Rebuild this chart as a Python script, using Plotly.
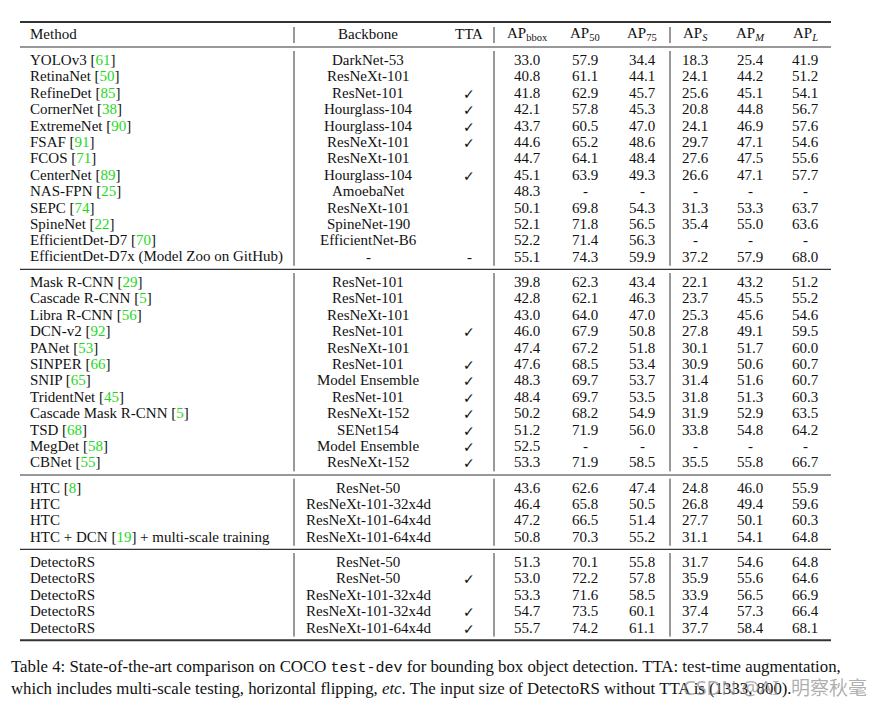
import plotly.graph_objects as go

# ---------------- data ----------------
methods = ["YOLOv3", "RetinaNet", "RefineDet", "CornerNet", "ExtremeNet", "FSAF", "FCOS",
           "CenterNet", "NAS-FPN", "SEPC", "SpineNet", "EfficientDet-D7",
           "EfficientDet-D7x (Model Zoo on GitHub)",
           "Mask R-CNN", "Cascade R-CNN", "Libra R-CNN", "DCN-v2", "PANet", "SINPER", "SNIP",
           "TridentNet", "Cascade Mask R-CNN", "TSD", "MegDet", "CBNet",
           "HTC", "HTC", "HTC", "HTC + DCN",
           "DetectoRS", "DetectoRS", "DetectoRS", "DetectoRS", "DetectoRS"]
refs = ["61", "50", "85", "38", "90", "91", "71", "89", "25", "74", "22", "70", "",
        "29", "5", "56", "92", "53", "66", "65", "45", "5", "68", "58", "55",
        "8", "", "", "19",
        "", "", "", "", ""]
method_suffix = [""] * 28 + [" + multi-scale training"] + [""] * 5
backbones = ["DarkNet-53", "ResNeXt-101", "ResNet-101", "Hourglass-104", "Hourglass-104",
             "ResNeXt-101", "ResNeXt-101", "Hourglass-104", "AmoebaNet", "ResNeXt-101",
             "SpineNet-190", "EfficientNet-B6", "-",
             "ResNet-101", "ResNet-101", "ResNeXt-101", "ResNet-101", "ResNeXt-101", "ResNet-101",
             "Model Ensemble", "ResNet-101", "ResNeXt-152", "SENet154", "Model Ensemble", "ResNeXt-152",
             "ResNet-50", "ResNeXt-101-32x4d", "ResNeXt-101-64x4d", "ResNeXt-101-64x4d",
             "ResNet-50", "ResNet-50", "ResNeXt-101-32x4d", "ResNeXt-101-32x4d", "ResNeXt-101-64x4d"]
tta = ["", "", "✓", "✓", "✓", "✓", "", "✓", "", "", "", "", "-",
       "", "", "", "✓", "", "✓", "✓", "✓", "✓", "✓", "✓", "✓",
       "", "", "", "",
       "", "✓", "", "✓", "✓"]
ap_bbox = [33.0, 40.8, 41.8, 42.1, 43.7, 44.6, 44.7, 45.1, 48.3, 50.1, 52.1, 52.2, 55.1,
           39.8, 42.8, 43.0, 46.0, 47.4, 47.6, 48.3, 48.4, 50.2, 51.2, 52.5, 53.3,
           43.6, 46.4, 47.2, 50.8,
           51.3, 53.0, 53.3, 54.7, 55.7]
ap50 = [57.9, 61.1, 62.9, 57.8, 60.5, 65.2, 64.1, 63.9, None, 69.8, 71.8, 71.4, 74.3,
        62.3, 62.1, 64.0, 67.9, 67.2, 68.5, 69.7, 69.7, 68.2, 71.9, None, 71.9,
        62.6, 65.8, 66.5, 70.3,
        70.1, 72.2, 71.6, 73.5, 74.2]
ap75 = [34.4, 44.1, 45.7, 45.3, 47.0, 48.6, 48.4, 49.3, None, 54.3, 56.5, 56.3, 59.9,
        43.4, 46.3, 47.0, 50.8, 51.8, 53.4, 53.7, 53.5, 54.9, 56.0, None, 58.5,
        47.4, 50.5, 51.4, 55.2,
        55.8, 57.8, 58.5, 60.1, 61.1]
ap_s = [18.3, 24.1, 25.6, 20.8, 24.1, 29.7, 27.6, 26.6, None, 31.3, 35.4, None, 37.2,
        22.1, 23.7, 25.3, 27.8, 30.1, 30.9, 31.4, 31.8, 31.9, 33.8, None, 35.5,
        24.8, 26.8, 27.7, 31.1,
        31.7, 35.9, 33.9, 37.4, 37.7]
ap_m = [25.4, 44.2, 45.1, 44.8, 46.9, 47.1, 47.5, 47.1, None, 53.3, 55.0, None, 57.9,
        43.2, 45.5, 45.6, 49.1, 51.7, 50.6, 51.6, 51.3, 52.9, 54.8, None, 55.8,
        46.0, 49.4, 50.1, 54.1,
        54.6, 55.6, 56.5, 57.3, 58.4]
ap_l = [41.9, 51.2, 54.1, 56.7, 57.6, 54.6, 55.6, 57.7, None, 63.7, 63.6, None, 68.0,
        51.2, 55.2, 54.6, 59.5, 60.0, 60.7, 60.7, 60.3, 63.5, 64.2, None, 66.7,
        55.9, 59.6, 60.3, 64.8,
        64.8, 64.6, 66.9, 66.4, 68.1]
section_sizes = [13, 12, 4, 5]
headers = ["Method", "Backbone", "TTA", "AP<sub>bbox</sub>", "AP<sub>50</sub>", "AP<sub>75</sub>",
           "AP<sub><i>S</i></sub>", "AP<sub><i>M</i></sub>", "AP<sub><i>L</i></sub>"]
caption_1 = ("Table 4: State-of-the-art comparison on COCO "
             "<span style='font-family:Liberation Mono;font-size:15px'>test-dev</span>"
             " for bounding box object detection. TTA: test-time augmentation,")
caption_2 = ("which includes multi-scale testing, horizontal flipping, <i>etc</i>. "
             "The input size of DetectoRS without TTA is (1333, 800).")
watermark_latin = "CSDN @AI"
watermark_cjk = "明察秋毫"

# ---------------- layout constants (page pixel coordinates) ----------------
W, H = 882, 703
OFF = 8  # default body margin of the html page
FONT = "Liberation Serif, Times New Roman, serif"
FS = 15
GREEN = "#1ed81e"
INK = "#111111"
x_left, x_right = 20, 831
col_x = [29, 368, 469, 527, 585, 642, 695, 750, 805]
vsep_x = [294, 494, 670]
header_y = 34
top_rule_y, head_rule_y = 22, 47
step, gap = 16.4, 12.6

fig = go.Figure()
fig.add_trace(go.Scatter(x=[OFF, W], y=[OFF, H], mode="markers",
                         marker=dict(opacity=0), hoverinfo="skip", showlegend=False))

ann = []
shapes = []


def text(x, y, s, anchor="center", size=FS, color=INK, family=FONT):
    ann.append(dict(x=x, y=y, xref="x", yref="y", text=s, showarrow=False,
                    xanchor=anchor, yanchor="middle", borderpad=0,
                    font=dict(family=family, size=size, color=color)))


def hline(y, w):
    shapes.append(dict(type="line", xref="x", yref="y", x0=x_left, x1=x_right, y0=y, y1=y,
                       line=dict(color="#333333", width=w)))


def vlines(y0, y1):
    for vx in vsep_x:
        shapes.append(dict(type="line", xref="x", yref="y", x0=vx, x1=vx, y0=y0, y1=y1,
                           line=dict(color="#333333", width=1)))


# header
for i, h in enumerate(headers):
    text(col_x[i], header_y, h, anchor="left" if i == 0 else "center")
hline(top_rule_y, 2)
hline(head_rule_y, 1.2)
vlines(27, 43)


def fmt(v):
    return "-" if v is None else f"{v:.1f}"


y = head_rule_y + gap + 0.4
idx = 0
for s_i, n in enumerate(section_sizes):
    y_start = y
    for r in range(n):
        m = methods[idx]
        if refs[idx]:
            m += f" [<span style='color:{GREEN}'>{refs[idx]}</span>]"
        m += method_suffix[idx]
        text(col_x[0], y, m, anchor="left")
        text(col_x[1], y, backbones[idx])
        if tta[idx]:
            if tta[idx] == "✓":
                text(col_x[2], y + 1, "✓", size=14, family="DejaVu Sans")
            else:
                text(col_x[2], y, tta[idx])
        vals = [ap_bbox[idx], ap50[idx], ap75[idx], ap_s[idx], ap_m[idx], ap_l[idx]]
        for c, v in enumerate(vals):
            text(col_x[3 + c], y, fmt(v))
        idx += 1
        y_last = y
        y += step
    rule_y = y_last + gap
    vlines(y_start - 9, y_last + 9)
    hline(rule_y, 2 if s_i == len(section_sizes) - 1 else 1.2)
    y = rule_y + gap

# caption
text(10, 667, caption_1, anchor="left", size=16.8)
text(10, 688, caption_2, anchor="left", size=16.8)
wm_color = "rgba(140,140,140,0.7)"
text(682, 687, watermark_latin, anchor="left", size=20, color=wm_color,
     family="Noto Sans, sans-serif")
text(790, 686, watermark_cjk, anchor="left", size=19, color=wm_color,
     family="Noto Sans CJK SC, sans-serif")

fig.update_layout(
    width=W - OFF, height=H - OFF, margin=dict(l=0, r=0, t=0, b=0),
    paper_bgcolor="white", plot_bgcolor="white",
    xaxis=dict(range=[OFF, W], visible=False, fixedrange=True),
    yaxis=dict(range=[H, OFF], visible=False, fixedrange=True),
    annotations=ann, shapes=shapes, showlegend=False,
)
fig.write_html("out.html", config={"displayModeBar": False})
